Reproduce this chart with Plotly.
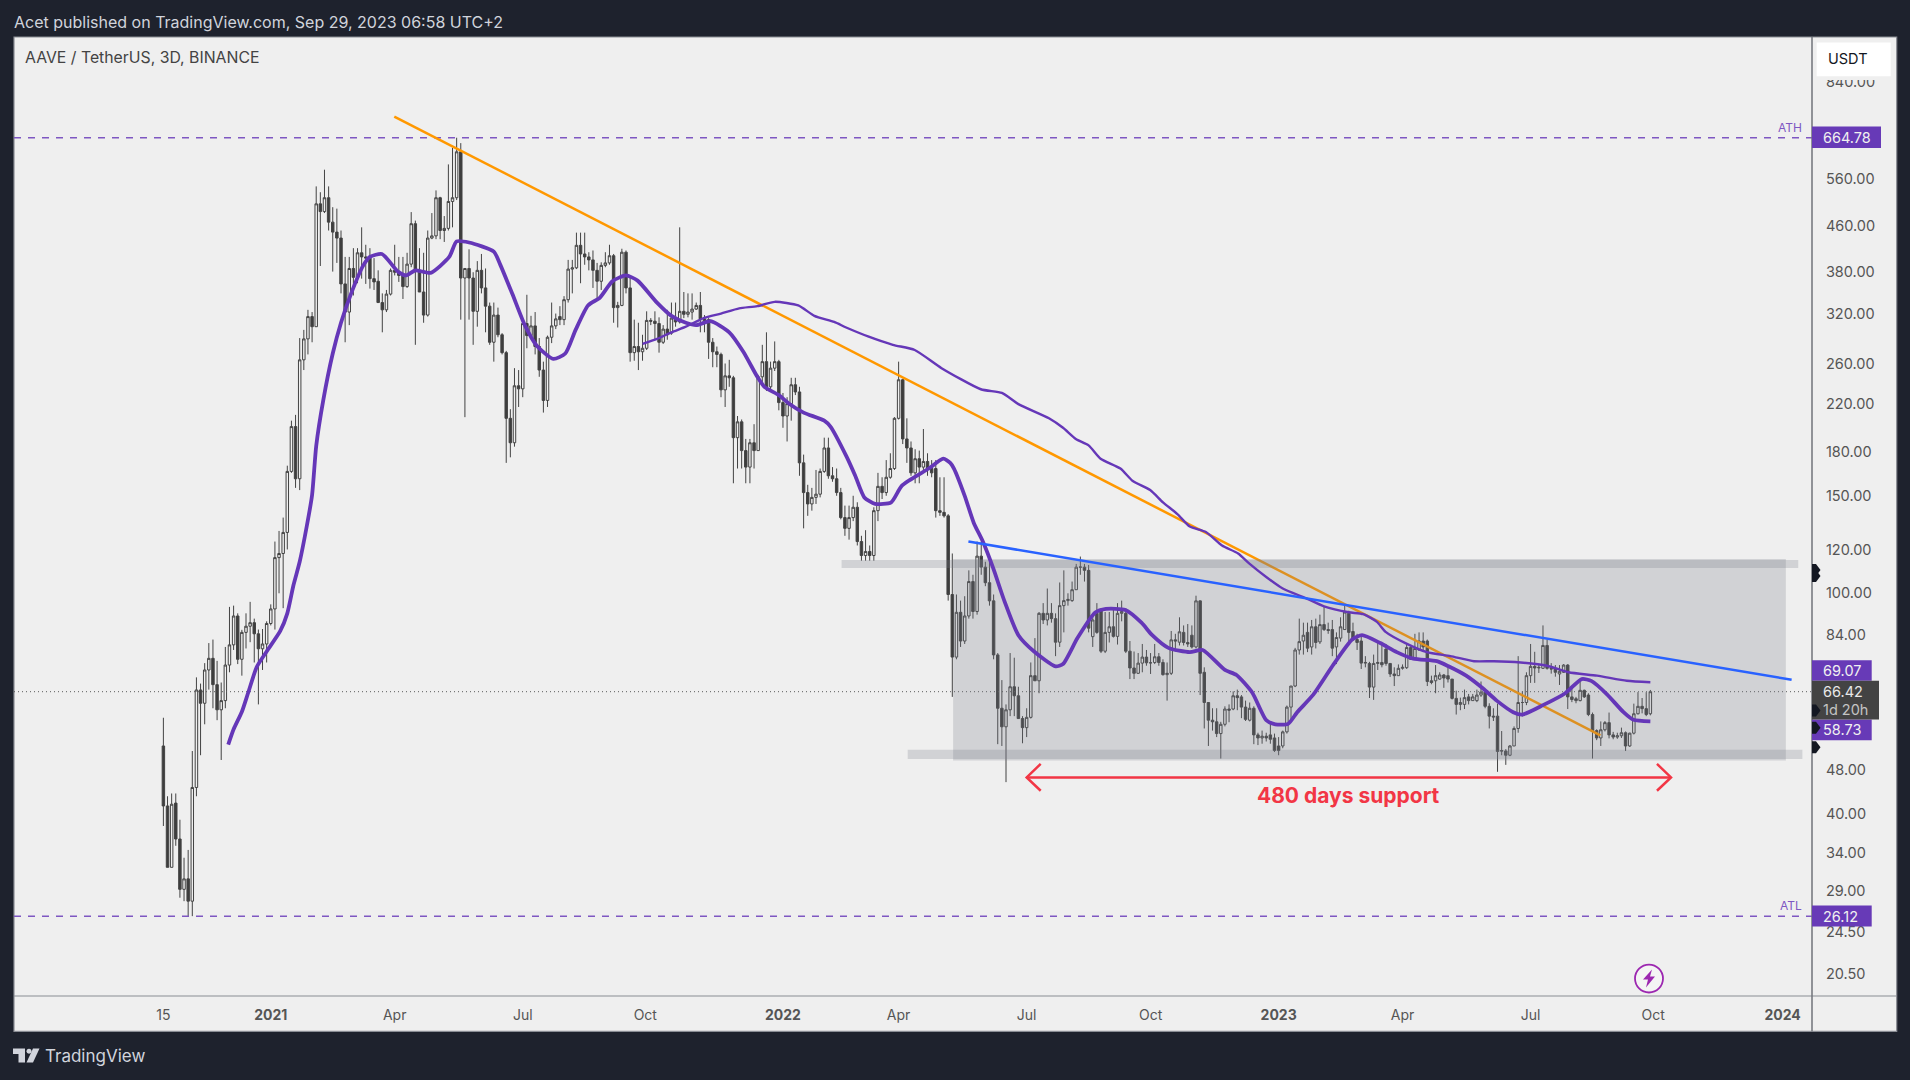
import math
from datetime import datetime, timedelta
import plotly.graph_objects as go

# ---------- data ----------
FIRST_BAR = datetime(2020, 10, 13)
BAR_DAYS = 3

opens = [53,41.3,32,41.8,36,29.2,30.5,27.8,44.6,66.9,63.3,72.7,76.3,68.4,61.6,64,74.2,80.7,91,76,85,87.2,88.5,84.5,79.4,81,88.2,93.7,116,118,
128.8,166,200,161,264,288,316,303,505,489,518,468,449,438,362,322,386,372,412,405,403,370,366,335,325,347,383,380,375,358,
393,465,383,350,318,438,442,518,452,456,510,518,627,371,386,371,323,383,356,330,284,318,293,272,207,187,237,234,307,292,
304,279,253,223,290,304,316,312,339,385,387,425,410,405,400,383,366,391,395,407,328,331,413,356,272,279,273,277,311,310,
307,284,300,295,314,309,323,319,322,326,331,313,312,284,273,270,233,247,245,191,204,181,169,187,181,246,262,236,255,262,
221,209,220,238,231,172,152,145,149,151,166,183,163,161,152,137,131,137,143,124,117,119,117,141,156,152,162,168,207,243,
190,183,165,175,169,173,168,168,141,140,138,99.5,76.7,92.4,82,91,105,92.7,116.7,111.5,104.5,96.9,77.4,62,57.4,61.6,67.8,65.3,59.4,57.2,
59.7,71,69.5,92,89.5,92,90,81.6,95,97,97,101.5,111.5,111.5,110,83.5,92,93,78.6,85,87,83.6,92,92,78.6,73.3,71.7,74.8,76.7,74.9,
75,76.8,75,71.3,71.7,82.4,81.6,85,81.5,84,80,96.9,72,63.5,59,58.6,55.8,58,61.8,61.8,65.3,65,62.3,59,62,55.5,54.8,55.2,55.5,54.8,
53,53,56.2,62.3,68,79,82,85,80,87,81.7,87.8,86,86,80,83,86,92,85.3,82.5,82,74.8,74.7,67.7,74.7,75,79.3,74.7,71.5,71,
73.2,73.4,79.8,76,79,82,82,69.5,69.5,70,71.2,71,70,64.6,63,63,65,64,64,65.5,66.3,62.5,60,60,52,51.9,51,53,57,63.5,63.5,
71,73.8,73.3,73.2,80.5,73.2,73,71.5,72,74.2,65,64.5,64,66.8,65.5,60.4,56.5,54.8,56.7,58.4,55.5,55,55.3,56,53,55.9,60.6,62.5,61.9,60.6]

closes = [41.3,32,41.6,36,29.2,30.5,27.8,44.6,66.9,63.3,72.7,76.3,68.4,61.6,64,74.2,80.7,91,76,85,87.2,88.5,84.5,79.4,81,88.2,93.7,116,118,128.8,
166,200,161,264,288,316,303,505,489,518,468,449,438,362,322,386,372,412,405,403,370,365,335,325,347,383,380,375,358,393,
465,383,350,318,438,442,518,452,456,510,518,627,371,386,371,323,383,356,330,284,318,293,272,207,187,237,234,307,292,304,
279,253,223,290,304,313,312,339,385,387,425,410,405,400,383,366,391,395,407,328,331,413,356,272,279,273,277,311,310,307,
284,300,293,314,309,323,319,322,326,331,313,307,284,273,270,233,247,245,191,204,181,169,187,181,246,262,236,255,262,221,
209,220,238,231,172,152,145,149,151,166,183,163,161,152,137,131,137,143,124,117,119,117,141,156,152,162,168,207,243,190,
183,165,175,169,173,168,165,141,140,138,99.5,76.7,92.4,82,91,105,92.7,116.7,111.5,104.5,96.9,77.4,62,57.4,61.6,67.8,65.3,59.4,57.2,59.7,
71,69.5,92,89.5,92,90,81.6,95,97,97.5,101.5,111.5,111.5,110,86.5,89.5,85,78.6,85,87,83.6,92,92.7,78.6,73.3,71.7,74.8,76.7,74.9,74.9,
76.8,75,71.3,71.7,82.4,82,85.2,81.5,81,80,96.9,71.7,63.5,59,58.6,55.8,58,61.8,61.5,65.3,64.8,62.3,59.2,62,55.5,54.8,55.2,54.8,54.5,52,
52,56.2,62.3,68,79,81.8,84,79.6,87,81.5,87.8,86,85.7,79.6,83.2,87,92.5,85,82.5,81.5,74.8,75,67.7,74.7,75,74.3,74.7,71.5,71,73.2,
73.5,79.8,76,79.5,82,80,69.3,69,71,71.2,70.3,70,64.6,63,63.5,64.8,64,65,65.5,66.3,62.5,60,59.8,51.8,51.9,51,53,57,63.5,63.5,
71,73.8,73.3,73.5,80.5,73.2,73,72,72.3,74.2,65,64.3,64,66.8,65,60.4,56.5,54.8,56.7,58.4,55.5,55,55.3,56,53,55.9,60.6,62.5,61.9,60.4,66.42]

highs = [59.6,43,43.5,43.5,39,33.3,34.4,51.9,70.5,68.7,74.8,81.3,82.5,75.5,69,80,94.5,95,92,85.9,92,96.5,90,86,86.2,89,95.5,124,129.6,137,
170,205,210,289,299,325,322,543,530,582,543,498,495,452,405,405,420,420,458,426,420,403,383,348,353,386,426,405,405,412,
488,471,420,412,452,486,534,520,480,595,637,664.78,650,386,418,380,398,410,386,335,335,328,295,274,215,255,253,309,346,317,
322,289,262,292,335,320,330,344,400,400,448,448,448,413,416,395,396,413,426,410,336,419,416,374,312,308,293,323,314,323,
315,305,325,335,335,458,350,348,348,335,350,318,314,289,279,272,260,264,247,209,206,190,190,202,248,281,296,262,285,264,
230,226,245,245,236,178,157,155,167,168,191,191,169,168,155,144,144,150,146,127,130,122,143,165,162,174,179,208,262,244,
207,188,182,181,198,179,174,174,162,162,139,118,99.5,97,98.8,110,108,124,124,114,114,99.5,78,69.7,63,78,76.5,67.8,60,62,
75,83,92.5,96,102,96,92,104.6,110,100,105,113,116.5,113,112.5,92,96,94,92.5,92.5,93.5,96,97,94,82,78.5,78,81,79,78,
81,78,76,75,85.5,84.5,90.5,87.5,88,87.5,99,97,73.5,63.5,62,62,58.6,62.5,63,66.5,67,65.5,64,63.5,62.5,56,56.5,56,58.2,55.8,
55,56.5,62.7,68,79.7,90,88.5,88.5,89.5,90,91.5,94.5,88.5,89.5,85,90.5,95,93,88.5,84.5,84,77,75.2,77.5,81.4,81,81,74.8,73.5,74.4,
74.4,81,80.5,84.5,85,85,82.5,71,74.2,72,71.5,74,70,66.7,64.8,67,65.8,65.8,67,69.3,66.7,63.3,62,63.2,56.4,52.3,53.2,57.5,77,66.5,
72,81,78.4,74.2,87.5,82.5,74.8,74.2,74.2,74.5,74.5,67.4,65,69.3,67,66,60.9,56.8,58.7,58.8,60.9,56.2,56,57.2,56.3,56,63.2,66.3,64.7,66.3,66.9]

lows = [38,32,32,35,28.2,27.8,26.12,26.12,43,51,58,67,62,59,50,62,72,79,74.5,71,79.5,81.6,75,63,72.7,75,87.5,86,100,94,
120,165,155,153.6,253,270,284,303,390,486,452,381,395,348,284,305,345,363,370,362,355,353,335,296,322,345,375,365,340,356,
388,281,350,308,316,436,436,436,431,452,458,513,312,208,312,281,303,348,296,281,262,290,270,172,176,184,217,226,277,288,
270,246,212,217,283,300,305,305,335,348,385,363,392,383,356,340,353,388,392,308,302,330,348,262,263,253,263,275,305,287,
272,282,287,293,303,307,314,315,312,325,296,296,265,256,256,226,217,236,158,168,168,158,158,168,181,240,232,232,252,214,
199,188,205,228,163,131,138,141,145,149,165,161,159,150,136,127,125,135,122,114.5,114.5,114.5,114.5,135,148,150,161,167,206,186,
172,163,158,158,165,163,162,137,138,137,97,65,76,80,81,90,90,91.5,108,103,95,76,53.4,53,45.6,60,60,59.4,53.6,55,
59.4,69.5,66,88,87.5,88.5,77,80,85,95,96.5,101.5,108,105,85,80,84.5,78,78,81.5,83.2,80.8,89,78,70,70,71.5,72,74,71.5,
74.5,74,71,64,71.2,78.5,80.5,80.5,80,79.5,79.5,65.5,57,53,56.5,55,50.3,57.5,58.5,61.5,61.5,59.5,58.8,58.7,53.4,53.2,53.5,54,53.5,51.7,
51,52.5,55.8,58.6,67.7,77.5,77.5,78.3,77.5,79.5,81,85.5,84.5,77,74.5,81.8,86,82,82,79,73,73.5,64.7,64.2,72.7,73.5,74,70.6,68,71,
72.8,73,75.8,75.8,78.7,79,68,68.5,66,69.8,67.5,69,64.3,60.4,61.5,61.8,63,64,63.6,65,62,57,58.8,47.6,51,49,50.8,53,56,59.9,
62.8,68.9,68.9,71.8,73,72.8,71.6,70.7,68.3,71.8,61.8,63.6,63.3,63.8,64.7,60,50.3,54.3,53,56.3,54.7,54.5,54.6,54.8,51.9,52.8,55.6,60.4,60.7,60,60.2]

thick_bar = [15.7,17,19,20.6,22.6,25,28.3,30,31.5,33,34.7,36,37,38.7,41,43,45.4,48.4,50,52.9,56.8,58.8,61,64.7,69.2,71,74,80,81.5,84.5,87.5,90.4,94.4,97.3,99.8,102.8,105.7,108.7,112,114.8,119.5,123,126.5,129,132.5,137,140.4,143.8,145.5,149,151.5,155,160,161.5,165.4,167.5,169.7,172.3,176.2,178.8,185.3,188.8,190.5,191.4,194,196.2,198.4,200.9,203.6,207,210.8,216,217.8,221.3,225.6,228.2,232.9,236.8,239.4,243.3,248.5,251.6,257,259.8,263.6,267,269.2,272.3,274.5,278.4,283.3,287.8,290.2,294.6,298.6,302.6,308.3,311,315.4,319.5,322.8,326.8,329,334,339.4,343.4,345.8,349.5,353.5,355.9,360]
thick_val = [53.3,56.8,61.1,66.4,73.6,78.5,85.5,92,103.5,114,132,150.5,184.5,223,271,308,347,391,405,410,381,375,383,379,405,432,430,414,393,347,305,280,265,271,299,331,342,366,375,367,335,317,308,305,310,296,273,246,236,228,220,212,205,200,176.5,163,149,145,146,156.5,168,175,172,168,150,134,124,111,96.9,84,78.5,73.8,74.5,83,92.3,93.7,93.3,88.5,84,79.7,78.3,79,72.7,71.2,66.2,59,58,58.1,61,65.6,74.4,82.5,84,81.3,78.3,76.2,75.4,73.9,71,67.3,64,61,60.4,62.8,66,70,69.4,65.7,61,59.1,58.73]

thin_bar = [116,119.5,123,126.5,130.8,135,139.4,143.8,148,153.7,157.6,162.4,165.3,170.6,176.6,181.9,188.4,197.9,203,207,214.4,217.8,220.9,224,226.9,231.7,234.7,238.9,242,245.5,248.5,252.4,256.3,260.2,263,267,271,276.6,281,287,290.5,293.8,295.9,300.7,305.9,311.6,317.3,322.1,328.6,335,340.2,347.1,354.3,360]
thin_val = [282,288,296,303,314,320,327,330,336,331,317,309,302,291,281,275,255,233.6,230,219.6,207,199,190,185,175,168,159.5,153.6,146,139,132,129,122,118,113,107,102,98,94.7,92.4,91.7,88.8,85.2,81.3,78.3,77,75.4,75.4,75,74,72,71,69.5,69.07]

orange_bar, orange_val = [55.9, 347.9], [726, 55.4]
blue_bar, blue_val = [194.9, 394.2], [124, 69.8]
box_bar, box_val = [191.2, 392.8], [115.3, 49.9]
top_band_bar, top_band_val = [164.2, 395.8], [114.9, 111.1]
low_band_bar, low_band_val = [180.2, 396.8], [52.2, 50.2]
arrow_bar = [209, 365]; arrow_tip_bar = [212.4, 361.6]
arrow_val, arrow_hi, arrow_lo = 46.5, 49.2, 44.0

ATH, ATL, LAST = 664.78, 26.12, 66.42
y_ticks = [840,560,460,380,320,260,220,180,150,120,100,84,48,40,34,29,24.5,20.5]
x_tick_dates = ["2020-10-13","2020-12-30","2021-03-30","2021-07-01","2021-09-28","2022-01-06","2022-03-31","2022-07-02","2022-09-30","2023-01-01","2023-04-01","2023-07-03","2023-09-30","2024-01-02"]
x_tick_text = ["15","<b>2021</b>","Apr","Jul","Oct","<b>2022</b>","Apr","Jul","Oct","<b>2023</b>","Apr","Jul","Oct","<b>2024</b>"]

# ---------- helpers ----------
W, H = 1910, 1080
L, R, T, B = 14, 1812, 36.5, 996.5
FONT = "Inter"
INK = "#4a4a4a"
PURPLE = "#6537b8"
LAVENDER = "#7e57c2"
FRAME = "#1e222d"
PANEL = "#efefef"
BORDER = "#8a8d94"

def bar_date(b):
    return (FIRST_BAR + timedelta(days=BAR_DAYS * b)).strftime("%Y-%m-%d %H:%M")
def px(x): return (x - L) / (R - L)
def py(y): return (B - y) / (B - T)
def rect(x0, y0, x1, y1, **kw):
    return dict(type="rect", xref="paper", yref="paper", x0=px(x0), x1=px(x1), y0=py(y0), y1=py(y1), **kw)
def poly(points, fill, layer="above", line=0, color=None):
    d = "M " + " L ".join(f"{px(a):.6f},{py(b):.6f}" for a, b in points) + " Z"
    return dict(type="path", xref="paper", yref="paper", path=d, fillcolor=fill, layer=layer,
                line=dict(width=line, color=color or fill))
def text(x, y, s, size, color, anchor="left", bold=False, family=FONT):
    return dict(xref="paper", yref="paper", x=px(x), y=py(y), text=f"<b>{s}</b>" if bold else s, showarrow=False,
                xanchor=anchor, yanchor="middle", font=dict(family=family, size=size, color=color), borderpad=0, borderwidth=0)

bar_dates = [bar_date(i) for i in range(len(closes))]
x_start, x_end = bar_date(-108.5 / BAR_DAYS), bar_date(1197.4 / BAR_DAYS)
BOX_FILL = "rgba(120,123,134,0.25)"

fig = go.Figure()
fig.add_trace(go.Candlestick(
    x=bar_dates, open=opens, high=[max(h, o, c) for h, o, c in zip(highs, opens, closes)],
    low=[min(l, o, c) for l, o, c in zip(lows, opens, closes)], close=closes,
    increasing=dict(line=dict(color="#434343", width=1), fillcolor="#f0f0f0"),
    decreasing=dict(line=dict(color="#434343", width=1), fillcolor="#3d3d3d"),
    whiskerwidth=0, showlegend=False, hoverinfo="skip"))

def add_line(xs, ys, color, width, dash=None, spline=False):
    fig.add_trace(go.Scatter(x=xs, y=ys, mode="lines", showlegend=False, hoverinfo="skip", connectgaps=False,
        line=dict(color=color, width=width, dash=dash, shape="spline" if spline else "linear", smoothing=0.6 if spline else None)))

def add_box(bars, vals):
    xs = [bar_date(bars[0]), bar_date(bars[1]), bar_date(bars[1]), bar_date(bars[0]), bar_date(bars[0])]
    ys = [vals[0], vals[0], vals[1], vals[1], vals[0]]
    fig.add_trace(go.Scatter(x=xs, y=ys, mode="lines", fill="toself", fillcolor=BOX_FILL, line=dict(width=0),
                             showlegend=False, hoverinfo="skip"))

add_line([x_start, x_end], [LAST, LAST], "#5a5a5a", 1, "1px,3px")
add_line([x_start, x_end], [ATH, ATH], LAVENDER, 1.5, "7px,7px")
add_line([x_start, x_end], [ATL, ATL], LAVENDER, 1.5, "7px,7px")
add_line([bar_date(b) for b in orange_bar], orange_val, "#ff9800", 2.5)
add_box(box_bar, box_val)
add_box(top_band_bar, top_band_val)
add_box(low_band_bar, low_band_val)
add_line([bar_date(b) for b in thin_bar], thin_val, PURPLE, 2.4, spline=True)
add_line([bar_date(b) for b in thick_bar], thick_val, PURPLE, 3.8, spline=True)
add_line([bar_date(b) for b in blue_bar], blue_val, "#2962ff", 2.5)
add_line([bar_date(arrow_bar[0]), bar_date(arrow_bar[1])], [arrow_val, arrow_val], "#f23645", 2.5)
add_line([bar_date(arrow_tip_bar[0]), bar_date(arrow_bar[0]), bar_date(arrow_tip_bar[0])], [arrow_hi, arrow_val, arrow_lo], "#f23645", 2.5)
add_line([bar_date(arrow_tip_bar[1]), bar_date(arrow_bar[1]), bar_date(arrow_tip_bar[1])], [arrow_hi, arrow_val, arrow_lo], "#f23645", 2.5)

shapes = [
    rect(L, T, 1896.7, 1032, fillcolor=PANEL, line=dict(color=BORDER, width=1.2), layer="below"),
    dict(type="line", xref="paper", yref="paper", x0=px(L), x1=px(1896.7), y0=py(B), y1=py(B), line=dict(color=BORDER, width=1.2), layer="above"),
    dict(type="line", xref="paper", yref="paper", x0=px(R), x1=px(R), y0=py(T), y1=py(1032), line=dict(color="#70737a", width=1.5), layer="above"),
    rect(R, 126, 1881, 147.7, fillcolor="#673ab7", line=dict(width=0), layer="above"),
    rect(R, 660.5, 1871.7, 680.8, fillcolor="#673ab7", line=dict(width=0), layer="above"),
    rect(R, 719.8, 1871.7, 740.5, fillcolor="#673ab7", line=dict(width=0), layer="above"),
    rect(R, 680.8, 1879, 719.8, fillcolor="#434343", line=dict(width=0), layer="above"),
    rect(R, 906, 1871.7, 927, fillcolor="#673ab7", line=dict(width=0), layer="above"),
    rect(R + 1, T + 1, 1896, 79.5, fillcolor=PANEL, line=dict(width=0), layer="above"),
    rect(1816.7, 42, 1890.7, 75.7, fillcolor="#ffffff", line=dict(width=0), layer="above"),
]
for yc in (570, 576, 710.6, 728, 747.5):
    shapes.append(poly([(R, yc - 6), (R + 4, yc - 6), (R + 8.5, yc), (R + 4, yc + 6), (R, yc + 6)], "#131722"))

# lightning badge
cx, cy, rr = 1649, 979, 14
shapes.append(dict(type="circle", xref="paper", yref="paper", x0=px(cx - rr), x1=px(cx + rr), y0=py(cy - rr), y1=py(cy + rr),
                   fillcolor="#f4f4f4", line=dict(color="#9c27b0", width=1.8), layer="above"))
shapes.append(poly([(cx + 3, cy - 9), (cx - 6, cy + 1), (cx - 1, cy + 1), (cx - 3, cy + 9), (cx + 6, cy - 2), (cx + 1, cy - 2)], "#9c27b0"))

# footer logo
shapes.append(poly([(13, 1049), (25, 1049), (25, 1063), (18.5, 1063), (18.5, 1054.5), (13, 1054.5)], "#d1d4dc"))
shapes.append(dict(type="circle", xref="paper", yref="paper", x0=px(26.5), x1=px(31.5), y0=py(1049.3), y1=py(1054.3),
                   fillcolor="#d1d4dc", line=dict(width=0), layer="above"))
shapes.append(poly([(33, 1049), (39.5, 1049), (33, 1063), (26.5, 1063)], "#d1d4dc"))

annotations = [
    text(13.5, 21, "Acet published on TradingView.com, Sep 29, 2023 06:58 UTC+2", 16, "#d1d4dc"),
    text(24.5, 57, "AAVE / TetherUS, 3D, BINANCE", 15.8, "#434343"),
    text(45, 1057, "TradingView", 17, "#d1d4dc"),
    text(1348, 795.5, "480 days support", 21, "#f23645", "center", bold=True),
    text(1801.7, 126.7, "ATH", 12, LAVENDER, "right"),
    text(1801.7, 906, "ATL", 12, LAVENDER, "right"),
    text(1822.7, 137.5, "664.78", 14.5, "#f0f0f0"),
    text(1822.7, 671, "69.07", 14.5, "#f0f0f0"),
    text(1822.7, 692, "66.42", 14.5, "#e8e8e8"),
    text(1822.7, 710, "1d 20h", 14.5, "#c4c4c4"),
    text(1822.7, 730, "58.73", 14.5, "#f0f0f0"),
    text(1822.7, 916.5, "26.12", 14.5, "#f0f0f0"),
    text(1828, 58.5, "USDT", 14.5, "#131722"),
]

fig.update_layout(
    width=W, height=H, autosize=False, boxgap=0.15,
    margin=dict(l=L, r=W - R, t=T, b=H - B, pad=0),
    paper_bgcolor=FRAME, plot_bgcolor="rgba(0,0,0,0)",
    font=dict(family=FONT, size=14, color=INK),
    showlegend=False, shapes=shapes, annotations=annotations, hovermode=False,
    xaxis=dict(type="date", range=[x_start, x_end], rangeslider=dict(visible=False), showgrid=False, zeroline=False,
               showline=False, tickmode="array", tickvals=x_tick_dates, ticktext=x_tick_text, ticks="outside",
               ticklen=6, tickcolor="rgba(0,0,0,0)", tickfont=dict(family=FONT, size=14, color="#555555")),
    yaxis=dict(type="log", side="right", range=[math.log10(18.74), math.log10(1010.6)], showgrid=False, zeroline=False,
               showline=False, tickmode="array", tickvals=y_ticks, tickformat=".2f", ticks="outside", ticklen=10,
               tickcolor="rgba(0,0,0,0)", tickfont=dict(family=FONT, size=14.5, color="#555555")),
)

fig.write_html("out.html", config=dict(displayModeBar=False),
               post_script="document.body.style.margin='0';document.body.style.overflow='hidden';")
